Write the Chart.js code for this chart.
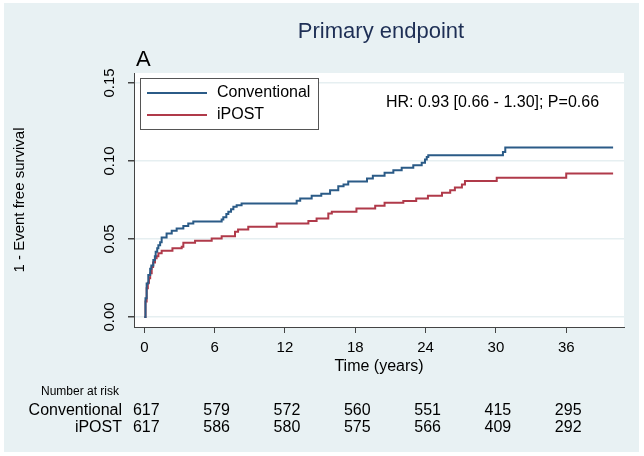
<!DOCTYPE html>
<html>
<head>
<meta charset="utf-8">
<script src="https://cdn.jsdelivr.net/npm/chart.js@4.4.0/dist/chart.umd.min.js"></script>
<style>
  html, body { margin: 0; padding: 0; background: #fff; }
  canvas { display: block; }
</style>
</head>
<body>
<canvas id="km" width="644" height="456"></canvas>
<script>
// cumulative incidence (1 - event free survival)
const convTime = [0, 0.1, 0.2, 0.34, 0.5, 0.6, 0.77, 0.9, 0.97, 1.1, 1.2, 1.35, 1.48, 1.9, 2.34, 2.76, 3.33, 3.75, 4.18, 6.6,
  6.74, 7.0, 7.17, 7.4, 7.6, 7.88, 8.3, 13.0, 13.3, 14.28, 15.1, 15.85, 16.55, 17.0, 17.4, 19.0, 19.5, 20.5, 21.25, 21.96,
  22.95, 23.67, 23.95, 24.1, 24.23, 30.6, 30.8, 40.0];
const convRisk = [0, 0.012, 0.0215, 0.027, 0.031, 0.033, 0.0365, 0.039, 0.0418, 0.044, 0.046, 0.048, 0.051, 0.0536, 0.0553, 0.0568, 0.0583, 0.060, 0.0612, 0.0625,
  0.064, 0.066, 0.0674, 0.069, 0.0706, 0.0717, 0.0728, 0.0745, 0.076, 0.0777, 0.079, 0.0813, 0.0838, 0.085, 0.0868, 0.0888, 0.0906, 0.0924, 0.0941, 0.0956,
  0.0973, 0.0988, 0.101, 0.1025, 0.1037, 0.1058, 0.1086, 0.1086];

const ipostTime = [0, 0.1, 0.2, 0.3, 0.4, 0.5, 0.63, 0.75, 0.91, 1.05, 1.2, 1.48, 2.4, 3.19, 3.33, 4.33, 5.75, 6.6, 7.74, 8.0,
  8.87, 11.3, 14.0, 14.7, 15.7, 16.0, 18.1, 19.7, 20.5, 22.1, 23.2, 24.2, 25.4, 26.1, 26.5, 27.1, 27.36, 30.07, 36.0, 40.0];
const ipostRisk = [0, 0.010, 0.0184, 0.022, 0.0248, 0.028, 0.032, 0.035, 0.0376, 0.039, 0.0408, 0.0424, 0.044, 0.045, 0.0476, 0.0489, 0.0504, 0.0517, 0.0546, 0.0561,
  0.0578, 0.060, 0.0615, 0.0632, 0.0664, 0.0674, 0.0696, 0.0713, 0.0732, 0.0743, 0.076, 0.0777, 0.0796, 0.0813, 0.083, 0.085, 0.0871, 0.0892, 0.092, 0.092];

const seriesNames = ['Conventional', 'iPOST'];
const xTicks = [0, 6, 12, 18, 24, 30, 36];
const yTicks = [0, 0.05, 0.10, 0.15];
const convAtRisk = [617, 579, 572, 560, 551, 415, 295];
const ipostAtRisk = [617, 586, 580, 575, 566, 409, 292];

const FONT = '"Liberation Sans", Arial, Helvetica, sans-serif';
const BLUE = '#2b5b87';
const RED = '#b03a4a';

Chart.defaults.font.family = FONT;
Chart.defaults.color = '#000';

function pts(t, v) {
  return t.map((x, i) => ({x: x, y: v[i]}));
}

// backgrounds, title, legend, annotation and number-at-risk table
const decor = {
  id: 'decor',
  beforeDraw(chart) {
    const {ctx, chartArea: a} = chart;
    ctx.save();
    ctx.fillStyle = '#fff';
    ctx.fillRect(0, 0, chart.width, chart.height);
    ctx.fillStyle = '#e8f1f3';
    ctx.fillRect(4, 3, 635, 449);
    ctx.fillStyle = '#fff';
    ctx.fillRect(a.left, a.top, a.right - a.left, a.bottom - a.top);
    ctx.restore();
  },
  afterDraw(chart) {
    const {ctx, scales} = chart;
    const sets = chart.data.datasets;
    ctx.save();

    ctx.fillStyle = '#1e2f55';
    ctx.font = '22px ' + FONT;
    ctx.textAlign = 'center';
    ctx.textBaseline = 'middle';
    ctx.fillText('Primary endpoint', 381, 32);

    ctx.fillStyle = '#000';
    ctx.font = '22px ' + FONT;
    ctx.textAlign = 'left';
    ctx.fillText('A', 136, 60);

    // legend box
    ctx.fillStyle = '#fff';
    ctx.fillRect(140.5, 78.5, 178, 51);
    ctx.strokeStyle = '#555';
    ctx.lineWidth = 1;
    ctx.strokeRect(140.5, 78.5, 178, 51);
    ctx.font = '16px ' + FONT;
    [93, 115].forEach((y, i) => {
      ctx.strokeStyle = sets[i].borderColor;
      ctx.lineWidth = 2;
      ctx.beginPath();
      ctx.moveTo(147, y);
      ctx.lineTo(207, y);
      ctx.stroke();
      ctx.fillStyle = '#000';
      ctx.fillText(sets[i].label, 217, y);
    });

    ctx.fillText('HR: 0.93 [0.66 - 1.30]; P=0.66', 386, 103);

    // number at risk
    ctx.font = '12px ' + FONT;
    ctx.fillText('Number at risk', 41, 392);
    ctx.font = '16px ' + FONT;
    ctx.textAlign = 'right';
    ctx.fillText(seriesNames[0], 122, 411);
    ctx.fillText(seriesNames[1], 122, 428);
    ctx.textAlign = 'center';
    xTicks.forEach((t, i) => {
      const x = scales.x.getPixelForValue(t) + 2;
      ctx.fillText(String(convAtRisk[i]), x, 411);
      ctx.fillText(String(ipostAtRisk[i]), x, 428);
    });
    ctx.restore();
  }
};

new Chart(document.getElementById('km'), {
  type: 'line',
  data: {
    datasets: [{
      label: seriesNames[0],
      data: pts(convTime, convRisk),
      borderColor: BLUE,
      borderWidth: 2,
      pointRadius: 0,
      stepped: 'before',
      fill: false
    }, {
      label: seriesNames[1],
      data: pts(ipostTime, ipostRisk),
      borderColor: RED,
      borderWidth: 2,
      pointRadius: 0,
      stepped: 'before',
      fill: false
    }]
  },
  options: {
    responsive: false,
    animation: false,
    layout: { padding: { left: 0, right: 20, top: 73, bottom: 69 } },
    plugins: {
      legend: { display: false },
      tooltip: { enabled: false }
    },
    scales: {
      x: {
        type: 'linear',
        min: -0.88,
        max: 40.93,
        afterBuildTicks: s => { s.ticks = xTicks.map(v => ({value: v})); },
        afterFit: s => { s.height = 60; },
        ticks: { font: { size: 15 }, padding: 6, maxRotation: 0, color: '#000' },
        grid: { drawOnChartArea: false, tickLength: 6, tickColor: '#444' },
        border: { color: '#444', width: 1 },
        title: { display: true, text: 'Time (years)', font: { size: 16 }, padding: { top: 0, bottom: 11 }, color: '#000' }
      },
      y: {
        type: 'linear',
        min: -0.0064,
        max: 0.1564,
        afterBuildTicks: s => { s.ticks = yTicks.map(v => ({value: v})); },
        afterFit: s => { s.width = 134; },
        ticks: {
          font: { size: 15 }, padding: 4, minRotation: 90, maxRotation: 90,
          crossAlign: 'center', color: '#000',
          callback: v => Number(v).toFixed(2)
        },
        grid: { color: '#e6eff1', lineWidth: 1.5, tickLength: 6, tickColor: '#444' },
        border: { color: '#444', width: 1 },
        title: { display: true, text: '1 - Event free survival', font: { size: 15 }, padding: { top: 11, bottom: 0 }, color: '#000' }
      }
    }
  },
  plugins: [decor]
});
</script>
</body>
</html>
